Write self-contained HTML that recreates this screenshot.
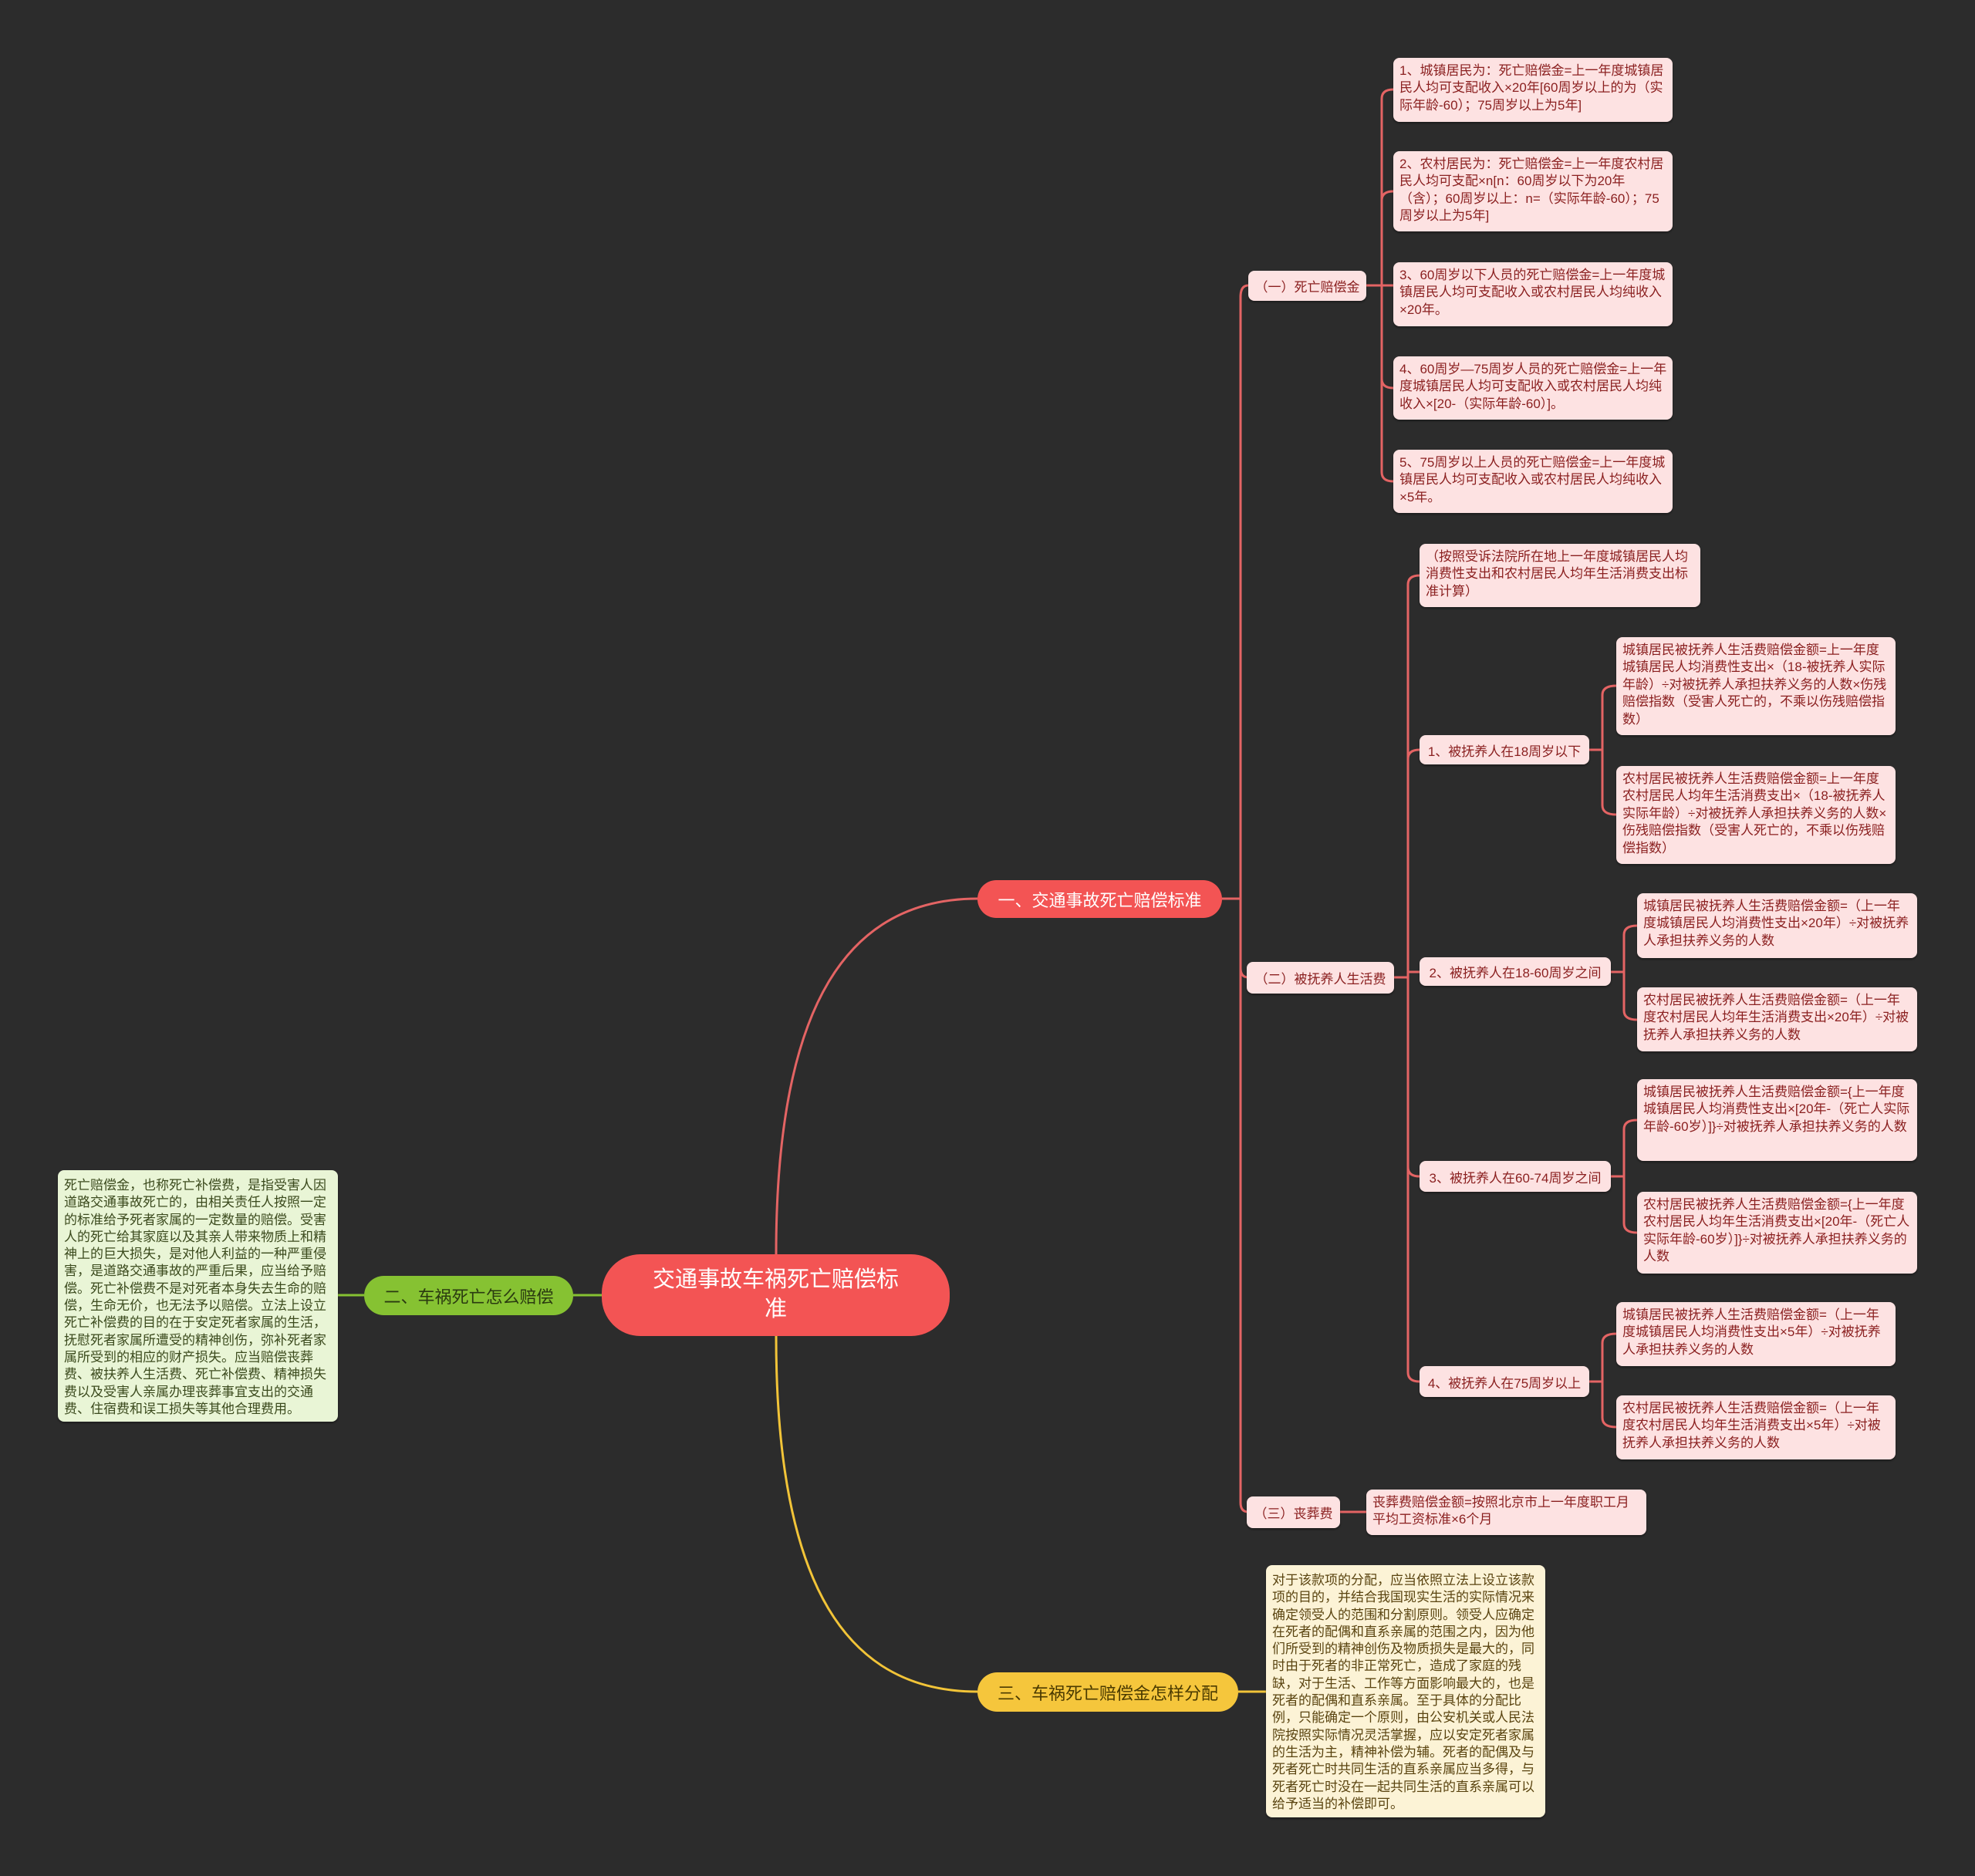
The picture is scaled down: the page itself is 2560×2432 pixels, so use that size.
<!DOCTYPE html>
<html><head><meta charset="utf-8"><style>
html,body{margin:0;padding:0}
body{width:2560px;height:2432px;background:#2c2c2c;position:relative;overflow:hidden;font-family:"Liberation Sans","Noto Sans CJK SC",sans-serif}
.n{position:absolute;box-sizing:border-box;border-radius:8px}
.leaf{background:#fde2e2;color:#8a1f1f;font-size:17px;line-height:22.4px;padding:6px 6px 0 8px;box-shadow:0 2px 2px rgba(0,0,0,.35)}
.l2{background:#fde2e2;color:#8a1f1f;font-size:17px;display:flex;align-items:center;justify-content:center;white-space:nowrap;box-shadow:0 2px 2px rgba(0,0,0,.35)}
.br{border-radius:26px;display:flex;align-items:center;justify-content:center;font-size:22px;white-space:nowrap}
svg{position:absolute;left:0;top:0}
</style></head><body>
<svg width="2560" height="2432" fill="none" stroke-width="3">
<g stroke="#e46464">
<path d="M1006,1626 C1006,1300 1100,1165 1267,1165"/>
<path d="M1584,1165 H1608"/>
<path d="M1608,1165 V385 Q1608,370 1618,370"/>
<path d="M1608,1165 V1255 Q1608,1267 1618,1267"/>
<path d="M1608,1165 V1948 Q1608,1960 1618,1960"/>
<path d="M1771,370 H1791"/>
<path d="M1791,370 V128 Q1791,116 1806,116 M1791,370 V260 Q1791,248 1806,248 M1791,370 V370 H1806 M1791,370 V491 Q1791,503 1806,503 M1791,370 V612 Q1791,624 1806,624"/>
<path d="M1807,1267 H1825"/>
<path d="M1825,1267 V758 Q1825,746 1840,746 M1825,1267 V984 Q1825,972 1840,972 M1825,1267 V1260 H1840 M1825,1267 V1513 Q1825,1525 1840,1525 M1825,1267 V1779 Q1825,1791 1840,1791"/>
<path d="M2060,972 H2077 M2077,972 V901 Q2077,889 2095,889 M2077,972 V1044 Q2077,1056 2095,1056"/>
<path d="M2088,1260 H2105 M2105,1260 V1212 Q2105,1200 2122,1200 M2105,1260 V1310 Q2105,1322 2122,1322"/>
<path d="M2088,1525 H2105 M2105,1525 V1464 Q2105,1452 2122,1452 M2105,1525 V1586 Q2105,1598 2122,1598"/>
<path d="M2060,1791 H2077 M2077,1791 V1741 Q2077,1729 2095,1729 M2077,1791 V1838 Q2077,1850 2095,1850"/>
<path d="M1737,1960 H1771"/>
</g>
<path d="M780,1679 H743 M472,1679 H438" stroke="#86c232"/>
<path d="M1006,1732 C1006,2060 1100,2193 1267,2193 M1605,2193 H1641" stroke="#f2c438"/>
</svg>

<div class="n" style="left:780px;top:1626px;width:451px;height:106px;background:#f35454;color:#fff;border-radius:50px;font-size:29px;line-height:38px;text-align:center;padding:14px 62px 0;display:block">交通事故车祸死亡赔偿标准</div>
<div class="n br" style="left:1267px;top:1141px;width:317px;height:49px;background:#f35454;color:#fff">一、交通事故死亡赔偿标准</div>
<div class="n br" style="left:472px;top:1654px;width:271px;height:51px;background:#86c232;color:#2a3a10">二、车祸死亡怎么赔偿</div>
<div class="n br" style="left:1267px;top:2168px;width:338px;height:51px;background:#f5c63c;color:#4a3a00">三、车祸死亡赔偿金怎样分配</div>

<div class="n leaf" style="left:75px;top:1517px;width:363px;height:326px;background:#e9f5d6;color:#3b4a1d;line-height:22.3px;padding-top:9px">死亡赔偿金，也称死亡补偿费，是指受害人因道路交通事故死亡的，由相关责任人按照一定的标准给予死者家属的一定数量的赔偿。受害人的死亡给其家庭以及其亲人带来物质上和精神上的巨大损失，是对他人利益的一种严重侵害，是道路交通事故的严重后果，应当给予赔偿。死亡补偿费不是对死者本身失去生命的赔偿，生命无价，也无法予以赔偿。立法上设立死亡补偿费的目的在于安定死者家属的生活，抚慰死者家属所遭受的精神创伤，弥补死者家属所受到的相应的财产损失。应当赔偿丧葬费、被扶养人生活费、死亡补偿费、精神损失费以及受害人亲属办理丧葬事宜支出的交通费、住宿费和误工损失等其他合理费用。</div>
<div class="n leaf" style="left:1641px;top:2029px;width:362px;height:327px;background:#fcf3d6;color:#5a4410;line-height:22.3px;padding-top:9px">对于该款项的分配，应当依照立法上设立该款项的目的，并结合我国现实生活的实际情况来确定领受人的范围和分割原则。领受人应确定在死者的配偶和直系亲属的范围之内，因为他们所受到的精神创伤及物质损失是最大的，同时由于死者的非正常死亡，造成了家庭的残缺，对于生活、工作等方面影响最大的，也是死者的配偶和直系亲属。至于具体的分配比例，只能确定一个原则，由公安机关或人民法院按照实际情况灵活掌握，应以安定死者家属的生活为主，精神补偿为辅。死者的配偶及与死者死亡时共同生活的直系亲属应当多得，与死者死亡时没在一起共同生活的直系亲属可以给予适当的补偿即可。</div>

<div class="n l2" style="left:1618px;top:351px;width:153px;height:39px">（一）死亡赔偿金</div>
<div class="n l2" style="left:1616px;top:1247px;width:191px;height:41px">（二）被抚养人生活费</div>
<div class="n l2" style="left:1616px;top:1940px;width:121px;height:41px">（三）丧葬费</div>

<div class="n leaf" style="left:1806px;top:75px;width:362px;height:83px">1、城镇居民为：死亡赔偿金=上一年度城镇居民人均可支配收入×20年[60周岁以上的为（实际年龄-60）；75周岁以上为5年]</div>
<div class="n leaf" style="left:1806px;top:196px;width:362px;height:104px">2、农村居民为：死亡赔偿金=上一年度农村居民人均可支配×n[n：60周岁以下为20年（含）；60周岁以上：n=（实际年龄-60）；75周岁以上为5年]</div>
<div class="n leaf" style="left:1806px;top:340px;width:362px;height:83px">3、60周岁以下人员的死亡赔偿金=上一年度城镇居民人均可支配收入或农村居民人均纯收入×20年。</div>
<div class="n leaf" style="left:1806px;top:462px;width:362px;height:82px">4、60周岁—75周岁人员的死亡赔偿金=上一年度城镇居民人均可支配收入或农村居民人均纯收入×[20-（实际年龄-60）]。</div>
<div class="n leaf" style="left:1806px;top:583px;width:362px;height:82px">5、75周岁以上人员的死亡赔偿金=上一年度城镇居民人均可支配收入或农村居民人均纯收入×5年。</div>

<div class="n leaf" style="left:1840px;top:705px;width:364px;height:82px">（按照受诉法院所在地上一年度城镇居民人均消费性支出和农村居民人均年生活消费支出标准计算）</div>
<div class="n l2" style="left:1840px;top:953px;width:220px;height:38px">1、被抚养人在18周岁以下</div>
<div class="n l2" style="left:1840px;top:1241px;width:248px;height:37px">2、被抚养人在18-60周岁之间</div>
<div class="n l2" style="left:1840px;top:1505px;width:248px;height:40px">3、被抚养人在60-74周岁之间</div>
<div class="n l2" style="left:1840px;top:1771px;width:220px;height:40px">4、被抚养人在75周岁以上</div>

<div class="n leaf" style="left:2095px;top:826px;width:362px;height:127px">城镇居民被抚养人生活费赔偿金额=上一年度城镇居民人均消费性支出×（18-被抚养人实际年龄）÷对被抚养人承担扶养义务的人数×伤残赔偿指数（受害人死亡的，不乘以伤残赔偿指数）</div>
<div class="n leaf" style="left:2095px;top:993px;width:362px;height:127px">农村居民被抚养人生活费赔偿金额=上一年度农村居民人均年生活消费支出×（18-被抚养人实际年龄）÷对被抚养人承担扶养义务的人数×伤残赔偿指数（受害人死亡的，不乘以伤残赔偿指数）</div>
<div class="n leaf" style="left:2122px;top:1158px;width:363px;height:84px">城镇居民被抚养人生活费赔偿金额=（上一年度城镇居民人均消费性支出×20年）÷对被抚养人承担扶养义务的人数</div>
<div class="n leaf" style="left:2122px;top:1280px;width:363px;height:83px">农村居民被抚养人生活费赔偿金额=（上一年度农村居民人均年生活消费支出×20年）÷对被抚养人承担扶养义务的人数</div>
<div class="n leaf" style="left:2122px;top:1399px;width:363px;height:106px">城镇居民被抚养人生活费赔偿金额={上一年度城镇居民人均消费性支出×[20年-（死亡人实际年龄-60岁）]}÷对被抚养人承担扶养义务的人数</div>
<div class="n leaf" style="left:2122px;top:1545px;width:363px;height:106px">农村居民被抚养人生活费赔偿金额={上一年度农村居民人均年生活消费支出×[20年-（死亡人实际年龄-60岁）]}÷对被抚养人承担扶养义务的人数</div>
<div class="n leaf" style="left:2095px;top:1688px;width:362px;height:83px">城镇居民被抚养人生活费赔偿金额=（上一年度城镇居民人均消费性支出×5年）÷对被抚养人承担扶养义务的人数</div>
<div class="n leaf" style="left:2095px;top:1809px;width:362px;height:83px">农村居民被抚养人生活费赔偿金额=（上一年度农村居民人均年生活消费支出×5年）÷对被抚养人承担扶养义务的人数</div>
<div class="n leaf" style="left:1771px;top:1931px;width:363px;height:59px">丧葬费赔偿金额=按照北京市上一年度职工月平均工资标准×6个月</div>
</body></html>
